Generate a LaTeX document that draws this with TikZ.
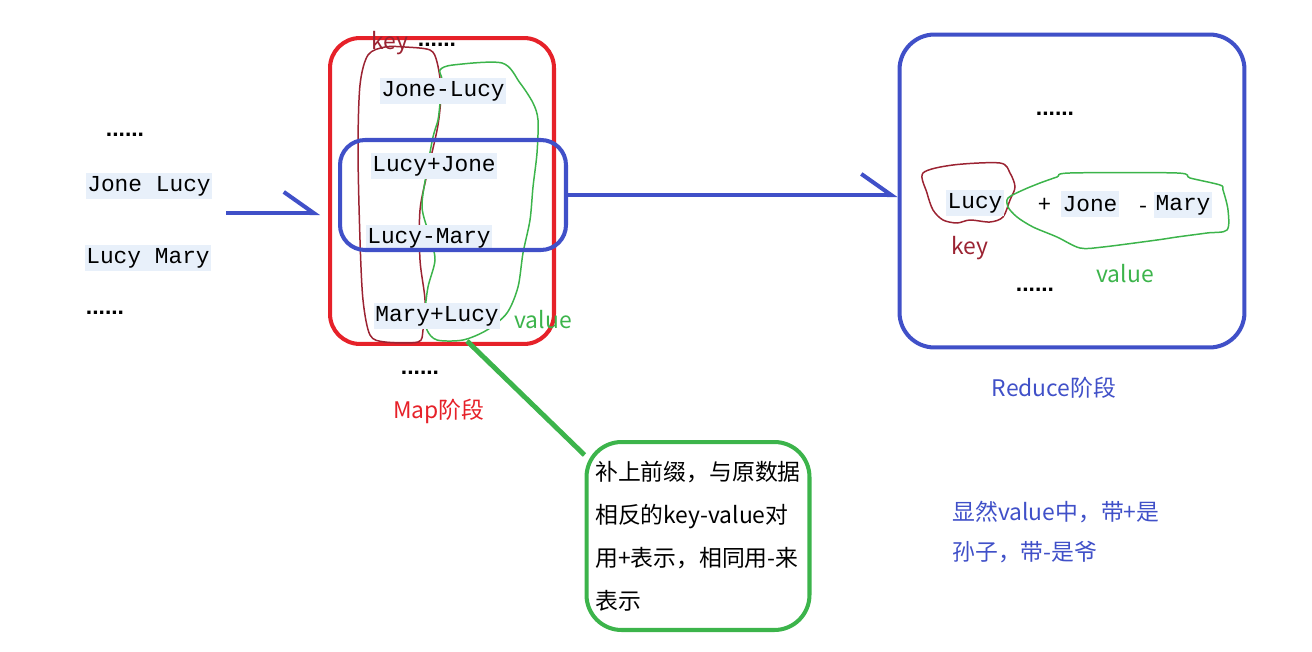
\documentclass[tikz,border=0pt]{standalone}
\usepackage{fontspec}
\setmainfont{Liberation Sans}
\setmonofont{Liberation Mono}
\newfontfamily\cjk{Noto Sans CJK SC}
\usepackage{tikz}
\usetikzlibrary{arrows.meta}
\usetikzlibrary{calc}
\definecolor{bl}{RGB}{64,80,200}
\definecolor{rd}{RGB}{230,33,41}
\definecolor{dr}{RGB}{155,35,50}
\definecolor{gr}{RGB}{60,180,75}
\definecolor{hl}{RGB}{232,240,250}

\begin{document}
\begin{tikzpicture}[x=0.02cm,y=-0.02cm,
kv/.style={font=\ttfamily\fontsize{13}{15}\selectfont, fill=hl, inner xsep=1pt, inner ysep=0pt, minimum height=0.52cm},
dots/.style={font=\bfseries\fontsize{13}{15}\selectfont, inner sep=0pt},
lbl/.style={font=\cjk\fontsize{13}{15}\selectfont, inner sep=0pt},
box/.style={rounded corners=#1, line width=2.3pt, draw},
ar/.style={draw=bl, line width=2.3pt, -{Straight Barb[left,length=17pt,width=24pt]}},
ct/.style={line width=0.85pt}]
\useasboundingbox (0,0) rectangle (1312,652);
% input
\node (d1) at (125,135) [dots] {......};
\node (in1) at (149,186) [kv] {Jone Lucy};
\node (in2) at (148,258) [kv] {Lucy Mary};
\node (d2) at (105,313) [dots] {......};
\coordinate (a1) at (226,213);
% map
\node (mapbox) at (442,191) [box=0.6cm, draw=rd, minimum width=4.48cm, minimum height=6.12cm] {};
\draw[dr, ct] plot[smooth cycle] coordinates {(405,47) (430,50) (437,62) (441,90) (438,125) (428,170) (420,210) (420,260) (425,300) (423,330) (418,342) (385,342) (370,335) (363,300) (360,240) (358,150) (360,85) (368,55) (385,47)};
\draw[gr, ct] plot[smooth cycle] coordinates {(440,70) (453,65) (502,63) (520,83) (533,103) (538,120) (537,153) (533,187) (530,220) (523,253) (518,287) (507,313) (487,330) (463,340) (437,340) (427,330) (425,313) (428,287) (435,260) (430,237) (422,207) (427,170) (433,137) (438,120) (440,103) (442,80)};
\node (mk) at (390,43) [lbl, dr] {key};
\node (d3) at (437,45) [dots] {......};
\node (m1) at (443,91) [kv] {Jone-Lucy};
\node (m2) at (434,166) [kv] {Lucy+Jone};
\node (m3) at (429,238) [kv] {Lucy-Mary};
\node (m4) at (437,316) [kv] {Mary+Lucy};
\node (mv) at (543,320) [lbl, gr] {value};
\node (ibox) at (453,195) [box=0.5cm, draw=bl, minimum width=4.52cm, minimum height=2.2cm] {};
\node (d4) at (420,373) [dots] {......};
\node (map) at (439,411) [lbl, rd] {Map阶段};
% reduce
\node (rbox) at (1072,191) [box=0.7cm, draw=bl, minimum width=6.9cm, minimum height=6.26cm] {};
\node (d5) at (1055,114) [dots] {......};
\draw[dr, ct] plot[smooth cycle] coordinates {(923,173) (953,165) (1000,163) (1010,173) (1015,187) (1010,200) (1003,217) (990,222) (970,220) (957,223) (943,220) (933,210) (927,193)};
\draw[gr, ct] plot[smooth cycle] coordinates {(1008,198) (1023,190) (1040,183) (1057,177) (1070,173) (1177,173) (1190,178) (1220,185) (1223,190) (1228,210) (1227,230) (1207,233) (1177,237) (1157,240) (1103,247) (1080,248) (1057,237) (1033,227) (1017,217) (1008,207)};
\node (r1) at (975,203) [kv] {Lucy};
\node (rp) at (1045,205) [lbl] {+};
\node (r2) at (1090,204) [kv] {Jone};
\node (rm) at (1143,210) [lbl] {-};
\node (r3) at (1183,205) [kv] {Mary};
\node (rk) at (970,248) [lbl, dr] {key};
\node (rv) at (1125,274) [lbl, gr] {value};
\node (d6) at (1035,290) [dots] {......};
\node (red) at (1054,388) [lbl, bl] {Reduce阶段};
\node (note) at (952,532) [anchor=west, lbl, bl, align=left, font=\cjk\fontsize{13}{22.7}\selectfont] {显然value中，带+是\\孙子，带-是爷};
% comment box
\node (gbox) at (698,536) [box=0.7cm, draw=gr, minimum width=4.46cm, minimum height=3.76cm, align=left, font=\cjk\fontsize{13}{24.4}\selectfont] {补上前缀，与原数据\\相反的key-value对\\用+表示，相同用-来\\表示};
\coordinate (vb) at (467,341);
\draw[gr, line width=2.8pt] (vb) -- ([yshift=-0.3cm]gbox.north west);
% arrows
\draw[ar, shorten >=0.16cm] (a1) -- (a1 -| mapbox.west);
\draw[ar] (ibox.east) -- (ibox.east -| rbox.west);
\end{tikzpicture}
\end{document}
